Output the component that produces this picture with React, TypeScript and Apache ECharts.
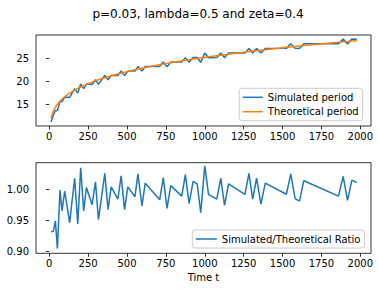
import React, { useEffect, useRef } from "react";
import * as echarts from "echarts";

const timeT = [11, 26, 39, 52, 69, 82, 99, 131, 163, 183, 202, 221, 239, 275, 297, 316, 357, 378, 398, 441, 462, 484, 505, 551, 570, 596, 617, 710, 733, 757, 781, 852, 875, 899, 925, 951, 974, 1000, 1024, 1077, 1103, 1127, 1153, 1258, 1284, 1308, 1333, 1361, 1389, 1525, 1553, 1581, 1609, 1637, 1860, 1890, 1918, 1946, 1978];

const simulated = [11.17, 12.61, 13.64, 13.58, 15.68, 15.58, 16.6, 16.51, 18.44, 17.45, 19.46, 18.43, 19.43, 19.35, 20.37, 19.36, 21.35, 20.34, 21.31, 21.29, 22.3, 21.28, 22.27, 22.28, 23.26, 22.26, 23.26, 23.26, 24.25, 23.21, 24.23, 24.23, 25.21, 24.18, 25.21, 25.24, 24.18, 26.22, 25.18, 25.22, 26.21, 25.19, 26.2, 26.21, 27.22, 26.2, 27.2, 26.2, 27.21, 27.23, 28.24, 27.24, 27.21, 28.23, 28.25, 29.25, 28.21, 29.25, 29.23];

const theoretical = [12.0, 13.53, 14.37, 15.02, 15.7, 16.15, 16.65, 17.45, 18.11, 18.48, 18.8, 19.1, 19.37, 19.85, 20.13, 20.36, 20.81, 21.03, 21.23, 21.64, 21.82, 22.01, 22.18, 22.55, 22.69, 22.88, 23.03, 23.66, 23.8, 23.95, 24.09, 24.5, 24.62, 24.75, 24.89, 25.02, 25.14, 25.26, 25.38, 25.63, 25.75, 25.86, 25.97, 26.42, 26.53, 26.63, 26.72, 26.84, 26.94, 27.45, 27.55, 27.65, 27.74, 27.84, 28.56, 28.65, 28.73, 28.82, 28.91];

const ratio = [0.931, 0.932, 0.949, 0.904, 0.999, 0.965, 0.997, 0.946, 1.018, 0.944, 1.035, 0.965, 1.003, 0.975, 1.012, 0.951, 1.026, 0.967, 1.004, 0.984, 1.022, 0.967, 1.004, 0.988, 1.025, 0.973, 1.01, 0.983, 1.019, 0.969, 1.006, 0.989, 1.024, 0.977, 1.013, 1.009, 0.962, 1.038, 0.992, 0.984, 1.018, 0.974, 1.009, 0.992, 1.026, 0.984, 1.018, 0.976, 1.01, 0.992, 1.025, 0.985, 0.981, 1.014, 0.989, 1.021, 0.982, 1.015, 1.011];

const xTicks = [0, 250, 500, 750, 1000, 1250, 1500, 1750, 2000];
const yTicksTop = [15, 20, 25];
const yTicksBottom = [0.9, 0.95, 1.0];

const FONT = "DejaVu Sans";

export default function App() {
  const ref = useRef<HTMLDivElement>(null);
  useEffect(() => {
    if (!ref.current) return;
    const chart = echarts.init(ref.current, null, { renderer: "svg" });
    const pairs = (ys: number[]) => timeT.map((t, i) => [t, ys[i]]);
    const xAxisBase = (gridIndex: number) => ({
      type: "value",
      gridIndex,
      min: -85.5,
      max: 2069,
      axisLine: { show: false },
      splitLine: { show: false },
      axisTick: { show: true, inside: false, length: 3.5, lineStyle: { color: "#000", width: 0.8 }, customValues: xTicks },
      axisLabel: {
        show: true,
        margin: 5,
        fontSize: 10,
        fontFamily: FONT,
        color: "#000",
        customValues: xTicks,
        formatter: (v: number) => String(v),
      },
    });
    const option: any = {
      animation: false,
      backgroundColor: "#fff",
      grid: [
        { left: 36, top: 35, width: 335, height: 91, show: true, borderColor: "#000", borderWidth: 0.8, containLabel: false },
        { left: 36, top: 162.7, width: 335, height: 90.6, show: true, borderColor: "#000", borderWidth: 0.8, containLabel: false },
      ],
      xAxis: [xAxisBase(0), xAxisBase(1)],
      yAxis: [
        {
          type: "value",
          gridIndex: 0,
          min: 10.27,
          max: 30.15,
          axisLine: { show: false },
          splitLine: { show: false },
          axisTick: { show: true, inside: false, length: 3.5, lineStyle: { color: "#000", width: 0.8 }, customValues: yTicksTop },
          axisLabel: { show: true, margin: 7, fontSize: 10, fontFamily: FONT, color: "#000", customValues: yTicksTop },
        },
        {
          type: "value",
          gridIndex: 1,
          min: 0.8963,
          max: 1.0432,
          axisLine: { show: false },
          splitLine: { show: false },
          axisTick: { show: true, inside: false, length: 3.5, lineStyle: { color: "#000", width: 0.8 }, customValues: yTicksBottom },
          axisLabel: {
            show: true,
            margin: 7,
            fontSize: 10,
            fontFamily: FONT,
            color: "#000",
            customValues: yTicksBottom,
            formatter: (v: number) => v.toFixed(2),
          },
        },
      ],
      legend: [
        {
          data: ["Simulated period", "Theoretical period"],
          orient: "vertical",
          left: 239.3,
          top: 88.3,
          padding: [3, 4, 3, 3.5],
          itemGap: 2.4,
          itemWidth: 20,
          itemHeight: 1.5,
          itemTextGap: 8,
          icon: "rect",
          backgroundColor: "rgba(255,255,255,0.8)",
          borderColor: "#ccc",
          borderWidth: 1,
          borderRadius: 3,
          textStyle: { fontSize: 10, fontFamily: FONT, color: "#000", lineHeight: 12 },
        },
        {
          data: ["Simulated/Theoretical Ratio"],
          orient: "vertical",
          left: 192.3,
          top: 230,
          padding: [3, 4, 3, 3.5],
          itemWidth: 21,
          itemHeight: 1.5,
          itemTextGap: 7.3,
          icon: "rect",
          backgroundColor: "rgba(255,255,255,0.8)",
          borderColor: "#ccc",
          borderWidth: 1,
          borderRadius: 3,
          textStyle: { fontSize: 10, fontFamily: FONT, color: "#000", lineHeight: 12 },
        },
      ],
      series: [
        {
          name: "Simulated period",
          type: "line",
          xAxisIndex: 0,
          yAxisIndex: 0,
          data: pairs(simulated),
          showSymbol: false,
          symbol: "none",
          lineStyle: { color: "#1f77b4", width: 1.5 },
          itemStyle: { color: "#1f77b4" },
        },
        {
          name: "Theoretical period",
          type: "line",
          xAxisIndex: 0,
          yAxisIndex: 0,
          data: pairs(theoretical),
          showSymbol: false,
          symbol: "none",
          lineStyle: { color: "#ff7f0e", width: 1.5 },
          itemStyle: { color: "#ff7f0e" },
        },
        {
          name: "Simulated/Theoretical Ratio",
          type: "line",
          xAxisIndex: 1,
          yAxisIndex: 1,
          data: pairs(ratio),
          showSymbol: false,
          symbol: "none",
          lineStyle: { color: "#1f77b4", width: 1.5 },
          itemStyle: { color: "#1f77b4" },
        },
      ],
      graphic: [
        {
          type: "text",
          x: 198,
          y: 13.5,
          style: { text: "p=0.03, lambda=0.5 and zeta=0.4", fontSize: 12, fontFamily: FONT, fill: "#000", align: "center", verticalAlign: "middle" },
        },
        {
          type: "text",
          x: 203.5,
          y: 277.3,
          style: { text: "Time t", fontSize: 10, fontFamily: FONT, fill: "#000", align: "center", verticalAlign: "middle" },
        },
      ],
    };
    chart.setOption(option);
    return () => chart.dispose();
  }, []);
  return <div ref={ref} style={{ width: 379, height: 291, position: "absolute", left: 0, top: 0 }} />;
}
